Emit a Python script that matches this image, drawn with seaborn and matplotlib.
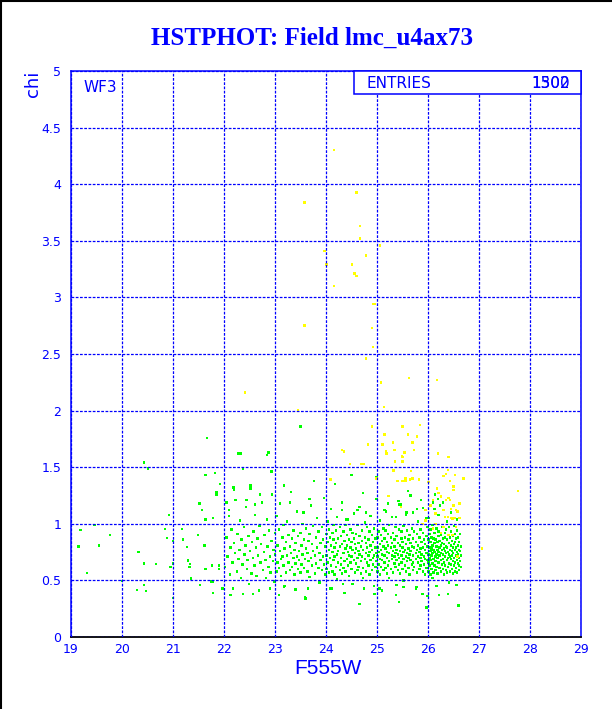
import matplotlib
matplotlib.use("Agg")
import matplotlib.pyplot as plt
from matplotlib.lines import Line2D
from matplotlib.patches import Rectangle
from matplotlib.ticker import MultipleLocator, FixedLocator, FixedFormatter
import seaborn as sns
import pandas as pd

# ---------------- data ----------------
title = "HSTPHOT: Field lmc_u4ax73"
x_label = "F555W"
y_label = "chi"
chip_label = "WF3"
entries_label = "ENTRIES"
entries_values = ["1300", "1502"]
x_ticks = [19, 20, 21, 22, 23, 24, 25, 26, 27, 28, 29]
x_ticklabels = ["19", "20", "21", "22", "23", "24", "25", "26", "27", "28", "29"]
y_ticks = [0, 0.5, 1, 1.5, 2, 2.5, 3, 3.5, 4, 4.5, 5]
y_ticklabels = ["0", "0.5", "1", "1.5", "2", "2.5", "3", "3.5", "4", "4.5", "5"]

# green points: (F555W, [chi values])
green_columns = [
    (19.15, [0.80]), (19.19, [0.945]), (19.31, [0.565]), (19.46, [0.99]), (19.55, [0.81]),
    (19.76, [0.90]), (20.0, [0.495]), (20.29, [0.415]), (20.32, [0.75]), (20.43, [1.54, 0.65, 0.46]),
    (20.47, [0.405]), (20.51, [1.49]), (20.67, [0.645]), (20.84, [0.955]), (20.88, [0.875]),
    (20.92, [1.08]), (20.95, [0.62]), (21.0, [0.85, 0.65, 0.345]), (21.18, [0.955]), (21.2, [0.86]),
    (21.27, [0.795]), (21.29, [0.675]), (21.32, [0.62]), (21.33, [0.645]), (21.35, [0.515]),
    (21.49, [0.90]), (21.52, [1.18]), (21.53, [0.46]), (21.57, [1.12]), (21.62, [0.81]),
    (21.64, [1.43, 1.04, 0.60]), (21.67, [1.76]), (21.75, [0.49]), (21.76, [0.63]),
    (21.78, [1.05, 0.39, 0.49, 0.39]), (21.82, [1.45]), (21.85, [1.26, 1.28]), (21.9, [0.60, 0.63]),
    (21.92, [1.35, 1.35]), (21.97, [0.43]),
    (22.02, [0.62]), (22.05, [0.88, 1.19]), (22.07, [0.71]), (22.10, [1.12, 1.07]), (22.12, [0.55, 0.37]),
    (22.13, [0.79]), (22.14, [0.37]), (22.15, [0.95]), (22.17, [0.66]), (22.18, [0.43]),
    (22.19, [1.32]), (22.2, [1.30, 0.83]), (22.22, [0.74]), (22.23, [1.21]), (22.25, [0.58]),
    (22.26, [0.91]), (22.27, [1.62]), (22.28, [0.69]), (22.30, [0.77]), (22.31, [1.03]),
    (22.32, [1.62]), (22.33, [0.52]), (22.34, [0.86]), (22.36, [0.64]), (22.37, [0.38, 1.49]),
    (22.39, [0.97]), (22.40, [0.73]), (22.42, [0.81]), (22.43, [1.15]), (22.44, [1.21]),
    (22.45, [0.60]), (22.46, [0.68]), (22.48, [0.89]), (22.49, [0.47]), (22.51, [0.76]),
    (22.52, [1.31, 1.34]), (22.54, [0.56]), (22.55, [0.84]), (22.57, [0.70, 0.38]), (22.58, [0.93]),
    (22.60, [0.63]), (22.61, [1.08, 1.17]), (22.63, [0.79]), (22.64, [0.54]), (22.66, [0.87]),
    (22.67, [0.72]), (22.69, [0.41]), (22.70, [0.98]), (22.71, [1.26]), (22.72, [0.66]),
    (22.73, [0.82]), (22.75, [1.19]), (22.76, [0.59]), (22.78, [0.75]), (22.79, [0.90]),
    (22.81, [0.68]), (22.82, [0.52]), (22.84, [1.04, 1.61]), (22.85, [0.80]), (22.87, [0.62, 1.63]),
    (22.88, [0.94]), (22.90, [0.71, 0.43]), (22.91, [0.57]), (22.93, [0.85, 1.46]), (22.94, [1.26]),
    (22.96, [0.67]), (22.97, [0.77]), (22.99, [0.49]),
    (23.00, [0.73, 0.92]), (23.03, [0.58, 1.07]), (23.05, [0.81, 0.66]), (23.08, [0.95, 0.61, 0.37]),
    (23.10, [0.76, 1.18]), (23.12, [0.69, 0.54]), (23.15, [0.88, 0.71]), (23.17, [0.63, 0.99]),
    (23.18, [1.34, 0.44]), (23.19, [0.78, 0.45]), (23.22, [0.57, 0.84]), (23.24, [0.72, 1.02]),
    (23.26, [0.66, 0.90]), (23.29, [0.80, 0.59, 1.19]), (23.31, [0.74, 1.28]), (23.33, [0.62, 0.87]),
    (23.36, [0.94, 0.70]), (23.38, [0.55, 0.77]), (23.40, [0.83, 0.65, 0.42]), (23.43, [0.71, 1.11]),
    (23.45, [0.60, 0.89]), (23.47, [0.76, 0.68]), (23.50, [0.92, 0.57, 1.86]), (23.52, [0.64, 0.81]),
    (23.54, [0.73, 1.00]), (23.56, [1.10]), (23.57, [0.86, 0.61]), (23.59, [0.69, 0.35]),
    (23.60, [0.34]), (23.61, [0.78, 0.96]), (23.64, [0.58, 0.74]), (23.65, [0.43]),
    (23.66, [0.85, 0.67]), (23.68, [0.91, 0.53, 1.22]), (23.71, [0.70, 1.16]), (23.73, [0.63, 0.82]),
    (23.75, [0.76, 0.98]), (23.76, [1.38]), (23.78, [0.56, 0.72]), (23.80, [0.88, 0.65]),
    (23.82, [0.79, 1.05]), (23.85, [0.61, 0.93]), (23.87, [0.74, 0.48]), (23.89, [0.83, 0.68]),
    (23.92, [0.59, 0.97]), (23.94, [0.71, 0.86]), (23.96, [0.64, 1.23]), (23.99, [0.80, 0.55]),
    (24.01, [0.72, 0.91, 0.60]), (24.03, [0.84, 0.66, 1.02]), (24.06, [0.57, 0.77, 0.95]),
    (24.08, [0.70, 0.88, 0.43]), (24.10, [0.63, 0.81, 1.13]), (24.12, [0.43]), (24.13, [0.75, 0.92, 0.58]),
    (24.15, [0.68, 0.86, 0.99]), (24.17, [0.55, 0.79, 0.71]), (24.18, [1.35]), (24.20, [0.94, 0.62, 0.83]),
    (24.22, [0.73, 0.51, 1.06]), (24.24, [0.87, 0.66, 0.76]), (24.27, [0.59, 0.97, 0.80]),
    (24.29, [0.70, 0.89, 0.64]), (24.31, [0.82, 0.56, 1.19, 1.12]), (24.33, [0.47]),
    (24.34, [0.74, 0.93, 0.61]), (24.36, [0.67, 0.85, 0.39]), (24.38, [0.78, 0.58, 0.99]),
    (24.40, [1.04]), (24.41, [0.90, 0.69, 0.81]), (24.43, [0.63, 0.75, 1.04]), (24.45, [0.86, 0.54, 0.72]),
    (24.48, [0.95, 0.66, 0.79]), (24.50, [0.60, 0.84, 0.71, 1.43]), (24.52, [0.77, 0.92, 0.47]),
    (24.55, [0.68, 0.87, 1.09]), (24.57, [0.57, 0.74, 0.82]), (24.59, [0.91, 0.65, 0.78]),
    (24.62, [0.70, 0.99, 0.59, 1.12]), (24.64, [0.83, 0.62, 0.76]), (24.66, [0.73, 0.89, 1.15, 0.29]),
    (24.69, [0.56, 0.80, 0.67]), (24.71, [0.94, 0.71, 0.85]), (24.73, [0.61, 0.77, 0.52, 1.27]),
    (24.75, [0.43]), (24.76, [0.88, 0.69, 1.01]), (24.78, [0.74, 0.58, 0.83, 1.10]),
    (24.80, [0.97, 0.66, 0.79]), (24.83, [0.63, 0.86, 0.72]), (24.85, [0.75, 0.93, 0.55]),
    (24.87, [0.68, 0.81, 1.07]), (24.90, [0.59, 0.77, 0.90]), (24.92, [0.84, 0.70, 0.64]),
    (24.94, [0.72, 0.96, 0.45]), (24.95, [0.38]), (24.97, [0.79, 0.62, 0.87]), (24.99, [0.67, 0.74, 1.22, 1.41]),
    (25.01, [0.71, 0.88, 0.58, 0.79]), (25.03, [0.64, 0.93, 0.75]), (25.05, [0.43]),
    (25.06, [0.82, 0.55, 0.69, 1.03]), (25.08, [0.77, 0.90, 0.62]), (25.10, [0.68, 0.85, 0.73, 0.41]),
    (25.13, [0.96, 0.59, 0.80]), (25.15, [0.72, 0.66, 0.87, 1.12]), (25.17, [0.61, 0.78, 0.94]),
    (25.18, [1.11]), (25.20, [0.84, 0.70, 0.56, 0.75]), (25.22, [0.91, 0.63, 0.81, 1.18]),
    (25.24, [0.74, 0.99, 0.67, 0.52]), (25.27, [0.79, 0.60, 0.88]), (25.29, [0.69, 0.83, 0.72, 1.06]),
    (25.31, [0.57, 0.92, 0.76]), (25.34, [0.86, 0.65, 0.71, 0.80]), (25.36, [0.62, 0.97, 0.74]),
    (25.37, [1.06, 0.37]), (25.38, [0.77, 0.68, 0.89, 0.46]), (25.41, [0.83, 0.59, 0.73]),
    (25.42, [1.20]), (25.43, [0.70, 0.95, 0.64, 1.17, 0.31]), (25.45, [0.81, 0.76, 0.56]),
    (25.47, [1.17]), (25.48, [0.66, 0.87, 0.72, 0.93]), (25.50, [0.60, 0.79, 0.84]),
    (25.52, [0.75, 0.69, 0.98, 0.50, 0.44]), (25.55, [0.88, 0.63, 0.77]), (25.57, [0.71, 0.82, 0.58, 1.08]),
    (25.58, [1.10]), (25.59, [0.94, 0.67, 0.74]), (25.61, [1.29]), (25.62, [0.78, 0.61, 0.86, 0.70]),
    (25.64, [0.55, 0.90, 0.73]), (25.66, [0.83, 0.68, 0.76, 1.25]), (25.69, [0.64, 0.96, 0.80]),
    (25.71, [0.72, 0.59, 0.87, 0.66, 1.10]), (25.73, [0.79, 0.93, 0.62]), (25.76, [0.69, 0.84, 0.74, 0.43]),
    (25.77, [0.44]), (25.78, [0.91, 0.57, 0.77, 1.13]), (25.80, [0.66, 0.81, 0.71, 1.02]),
    (25.83, [0.75, 0.88, 0.60]), (25.85, [0.63, 0.78, 0.95, 0.70]), (25.86, [1.21]),
    (25.87, [0.84, 0.67, 0.73]), (25.89, [0.38]), (25.90, [0.58, 0.92, 0.79, 1.14]),
    (25.92, [0.71, 0.64, 0.86]), (25.94, [0.77, 0.55, 0.82, 0.69]), (25.97, [0.89, 0.74, 0.61, 1.05, 0.26]),
    (25.99, [0.68, 0.80, 0.97, 0.36]),
    (26.01, [0.73, 0.58, 0.86, 0.66, 1.05]), (26.03, [0.79, 0.91, 0.63, 0.70]),
    (26.05, [0.55, 0.76, 0.84, 0.68, 0.95]), (26.07, [0.72, 0.60, 0.88, 0.78]),
    (26.09, [0.65, 0.81, 0.74, 0.99, 0.52]), (26.10, [1.19]), (26.11, [0.87, 0.69, 0.57, 0.77]),
    (26.13, [0.75, 0.92, 0.63, 0.83, 1.13]), (26.14, [1.26]), (26.15, [0.67, 0.71, 0.59, 0.86]),
    (26.17, [0.80, 0.96, 0.73, 0.62, 0.45]), (26.19, [0.70, 0.84, 0.56, 0.77]), (26.20, [1.22]),
    (26.21, [0.89, 0.66, 0.75, 0.93, 1.08]), (26.22, [0.37]), (26.23, [0.61, 0.79, 0.72, 0.85]),
    (26.24, [1.16]), (26.25, [0.74, 0.58, 0.90, 0.68, 0.81]), (26.27, [0.83, 0.64, 0.77, 0.97]),
    (26.29, [0.69, 0.87, 0.60, 0.73, 1.19]), (26.31, [0.78, 0.55, 0.82, 0.66]),
    (26.33, [0.92, 0.71, 0.63, 0.76, 0.88]), (26.35, [0.59, 0.80, 0.74, 0.95]),
    (26.37, [0.68, 0.86, 0.57, 0.79, 1.02]), (26.39, [0.75, 0.62, 0.90, 0.70, 0.38]),
    (26.41, [0.83, 0.65, 0.73, 0.97, 0.48]), (26.43, [0.71, 0.88, 0.58, 0.77]),
    (26.45, [0.64, 0.81, 0.93, 0.69, 1.10]), (26.47, [0.76, 0.60, 0.85, 0.72]),
    (26.49, [0.89, 0.67, 0.79, 0.56, 0.74]), (26.51, [0.63, 0.82, 0.70, 0.98]),
    (26.53, [0.77, 0.58, 0.91, 0.66, 0.84]), (26.55, [0.72, 0.87, 0.61, 0.79]),
    (26.56, [0.46]), (26.57, [0.68, 0.94, 0.75, 0.57, 1.04]), (26.59, [0.81, 0.65, 0.73, 0.88]),
    (26.60, [0.28]), (26.61, [0.70, 0.59, 0.84, 0.77, 0.63]), (26.63, [0.76, 0.91, 0.67]),
    (26.65, [0.72, 0.80, 0.62]),
]

# yellow points: (F555W, [chi values])
yellow_columns = [
    (22.41, [2.16]), (23.45, [2.0]), (23.58, [3.84, 2.75]), (23.97, [3.41]), (24.01, [3.29]),
    (24.09, [1.39]), (24.16, [4.30, 3.10]), (24.31, [1.65]), (24.35, [1.64]), (24.47, [1.53]),
    (24.51, [3.29]), (24.56, [3.21]), (24.6, [3.925, 3.19]), (24.67, [3.63, 3.52]), (24.7, [1.53]),
    (24.75, [1.53]), (24.78, [3.37, 2.46]), (24.82, [1.70]), (24.9, [2.73, 1.86]), (24.92, [2.56]),
    (24.93, [2.94]), (24.96, [2.94]), (24.99, [1.40]), (25.06, [3.46]), (25.08, [2.25]),
    (25.11, [1.70, 1.70]), (25.14, [2.03]), (25.15, [1.79]), (25.18, [1.64]), (25.19, [1.62]),
    (25.23, [1.245]), (25.31, [1.72]), (25.32, [1.47]), (25.33, [1.47]), (25.34, [1.65]),
    (25.35, [1.55]), (25.4, [1.38]), (25.47, [1.15]), (25.49, [1.60]), (25.5, [1.86, 1.59, 1.55, 1.38]),
    (25.54, [1.63]), (25.56, [1.40, 1.38]), (25.61, [1.79]), (25.63, [2.29]), (25.65, [1.39]),
    (25.67, [1.465]), (25.7, [1.72, 1.40]), (25.73, [1.65]), (25.78, [1.77]), (25.82, [1.39]),
    (25.84, [1.875]), (25.89, [1.0]), (25.95, [1.12, 1.03]), (26.01, [1.37]), (26.05, [1.16]),
    (26.1, [1.21, 0.96]), (26.15, [1.09, 1.0]), (26.18, [2.27, 1.31]), (26.2, [1.62]), (26.21, [1.27]),
    (26.25, [1.24, 0.92]), (26.3, [1.42, 1.12, 0.97]), (26.33, [1.06]), (26.35, [1.44, 1.21]),
    (26.39, [1.475, 1.06]), (26.4, [1.59, 1.23, 0.90]), (26.43, [1.21, 1.38]), (26.45, [1.13, 1.05]),
    (26.48, [1.045, 0.90]), (26.5, [1.30, 1.33, 1.16]), (26.53, [1.43, 1.05]), (26.55, [1.12, 0.97]),
    (26.58, [1.11, 0.71]), (26.62, [1.18, 1.05]), (26.7, [1.40]), (27.06, [0.78]), (27.76, [1.29]),
]

# ---------------- build table ----------------
rows = []
for x, ys in green_columns:
    for y in ys:
        rows.append((x, y, "green"))
for x, ys in yellow_columns:
    for y in ys:
        rows.append((x, y, "yellow"))
df = pd.DataFrame(rows, columns=["F555W", "chi", "group"])

# ---------------- style ----------------
sns.set_style("white")
plt.rcParams["font.family"] = ["DejaVu Sans"]
BLUE = "#0000ff"

W, H = 612, 709
fig = plt.figure(figsize=(W / 100, H / 100), dpi=100)
ax = fig.add_axes([71 / W, 1 - 637 / H, 510 / W, 566 / H])

sns.scatterplot(data=df, x="F555W", y="chi", hue="group",
                palette={"green": "#00ff00", "yellow": "#ffff00"},
                hue_order=["green", "yellow"],
                marker="s", s=3.2, linewidth=0, legend=False, ax=ax)

ax.set_xlim(19, 29)
ax.set_ylim(0, 5)
ax.set_xlabel("")
ax.set_ylabel("")

ax.xaxis.set_major_locator(FixedLocator(x_ticks))
ax.xaxis.set_major_formatter(FixedFormatter(x_ticklabels))
ax.yaxis.set_major_locator(FixedLocator(y_ticks))
ax.yaxis.set_major_formatter(FixedFormatter(y_ticklabels))
ax.xaxis.set_minor_locator(MultipleLocator(0.2))
ax.yaxis.set_minor_locator(MultipleLocator(0.1))

ax.tick_params(axis="both", which="both", direction="in", color=BLUE,
               labelcolor=BLUE, labelsize=9, width=1.0)
ax.tick_params(axis="x", which="major", length=9, pad=4)
ax.tick_params(axis="x", which="minor", length=4.5)
ax.tick_params(axis="y", which="major", length=5.5, pad=7)
ax.tick_params(axis="y", which="minor", length=3)
ax.tick_params(top=False, right=False, which="both")

ax.grid(True, which="major", color=BLUE, linestyle=(0, (2.2, 1.2)), linewidth=0.9)
ax.set_axisbelow(False)

for side in ["left", "top", "right"]:
    ax.spines[side].set_color(BLUE)
    ax.spines[side].set_linewidth(1.1)
ax.spines["bottom"].set_color("black")
ax.spines["bottom"].set_linewidth(1.3)

# stats box
box = Rectangle((354 / W, 1 - 93.5 / H), (581 - 354) / W, 22.5 / H,
                transform=fig.transFigure, facecolor="white", edgecolor=BLUE,
                linewidth=1.1, zorder=5)
fig.add_artist(box)
fig.text(367 / W, 1 - 83 / H, entries_label, color=BLUE, fontsize=11,
         ha="left", va="center", zorder=6)
for v in entries_values:
    fig.text(570 / W, 1 - 83 / H, v, color=BLUE, fontsize=11,
             ha="right", va="center", zorder=6)

ax.text(83 / W, 1 - 87.5 / H, chip_label, transform=fig.transFigure, color=BLUE,
        fontsize=11, ha="left", va="center")

fig.text(312 / W, 1 - 38 / H, title, color=BLUE, fontsize=18, fontweight="bold",
         family=["Liberation Serif", "DejaVu Serif"], ha="center", va="center")
fig.text(328 / W, 1 - 668 / H, x_label, color=BLUE, fontsize=15,
         family=["Liberation Sans Narrow", "Liberation Sans", "DejaVu Sans"],
         ha="center", va="center")
fig.text(33 / W, 1 - 71 / H, y_label, color=BLUE, fontsize=13, rotation=90,
         ha="center", va="top")

# figure frame (left and top)
fig.add_artist(Line2D([0.5 / W, 0.5 / W], [0, 1], transform=fig.transFigure,
                      color="black", linewidth=1.5))
fig.add_artist(Line2D([0, 1], [1 - 0.5 / H, 1 - 0.5 / H], transform=fig.transFigure,
                      color="black", linewidth=1.5))

fig.savefig("out.png", dpi=100, facecolor="white")
